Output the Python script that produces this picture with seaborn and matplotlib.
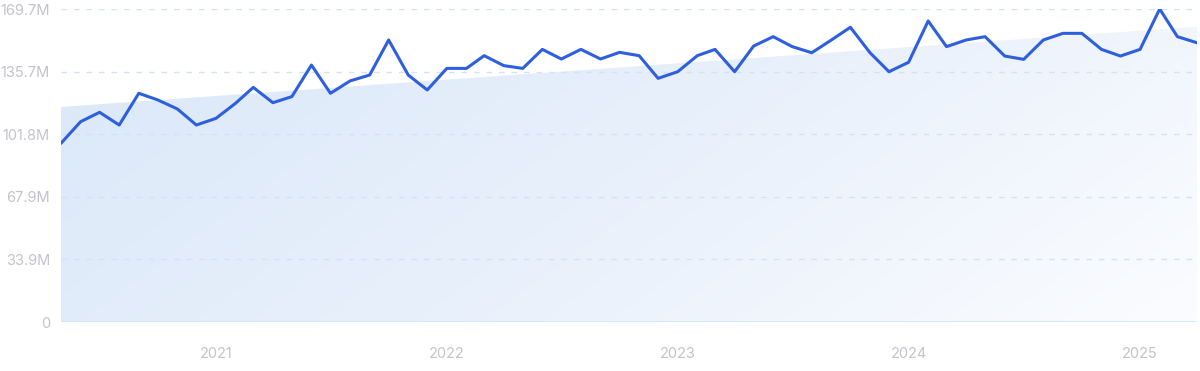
import numpy as np
import pandas as pd
import matplotlib
matplotlib.use("Agg")
import matplotlib.pyplot as plt
import seaborn as sns
from matplotlib.colors import LinearSegmentedColormap
from matplotlib.patches import Polygon

# ---- data ----
start_month = "2020-05-01"
values_m = [96.9, 108.6, 113.7, 106.8, 124.0, 120.4, 115.5, 106.8, 110.4, 118.6,
            127.2, 118.9, 122.2, 139.3, 124.0, 130.7, 133.9, 152.9, 133.9, 125.8,
            137.5, 137.5, 144.4, 139.0, 137.5, 147.8, 142.6, 147.8, 142.6, 146.2,
            144.4, 132.1, 135.7, 144.4, 147.8, 135.7, 149.6, 154.7, 149.3, 146.0,
            152.9, 159.8, 146.0, 135.7, 140.8, 163.2, 149.3, 152.9, 154.7, 144.2,
            142.4, 152.9, 156.5, 156.5, 147.8, 144.2, 147.8, 169.7, 154.7, 151.4]
trend_m = [116.6, 160.1]
ytick_vals = [0, 33.9, 67.9, 101.8, 135.7, 169.7]
ytick_labels = ["0", "33.9M", "67.9M", "101.8M", "135.7M", "169.7M"]
xtick_years = [2021, 2022, 2023, 2024, 2025]

dates = pd.date_range(start_month, periods=len(values_m), freq="MS")
df = pd.DataFrame({"date": dates, "value": values_m})

sns.set_style("white")
plt.rcParams["font.family"] = ["Inter", "DejaVu Sans"]

fig = plt.figure(figsize=(12, 3.71), dpi=100)
ax = fig.add_axes([61 / 1200, 1 - 322 / 371, (1197 - 61) / 1200, (322 - 9) / 371])

x0 = matplotlib.dates.date2num(dates[0])
x1 = matplotlib.dates.date2num(dates[-1])
ymax = ytick_vals[-1]

# gradient fill under trend line (light blue upper-left -> near white lower-right)
cmap = LinearSegmentedColormap.from_list("g", ["#dae8f9", "#e8f0fb", "#fbfcff"])
nx, ny = 300, 100
gx = np.linspace(0, 1, nx)
gy = np.linspace(0, 1, ny)
GX, GY = np.meshgrid(gx, gy)
grad = 0.8 * GX + 0.3 * (1 - GY)  # row 0 = bottom (origin lower)
grad = grad / grad.max()
im = ax.imshow(grad, extent=[x0, x1, 0, ymax], origin="lower", cmap=cmap,
               aspect="auto", zorder=1, interpolation="bilinear")
poly = Polygon([[x0, 0], [x0, trend_m[0]], [x1, trend_m[1]], [x1, 0]],
               closed=True, facecolor="none", edgecolor="none")
ax.add_patch(poly)
im.set_clip_path(poly)

# grid lines
for v in ytick_vals[1:]:
    ax.axhline(v, color="#d3e3f5", lw=1.0, ls=(0, (4, 5)), zorder=2)
ax.axhline(0, color="#cde6fb", lw=1.2, zorder=2)

sns.lineplot(data=df, x="date", y="value", ax=ax, color="#2d5fe0",
             linewidth=2.2, zorder=3)

ax.set_xlim(x0, x1)
ax.set_ylim(0, ymax)
ax.set_yticks(ytick_vals)
ax.set_yticklabels(ytick_labels)
ax.set_xticks([matplotlib.dates.date2num(pd.Timestamp(f"{y}-01-01")) for y in xtick_years])
ax.set_xticklabels([str(y) for y in xtick_years])
ax.tick_params(axis="both", length=0, labelsize=10.5, labelcolor="#c3c3cc")
ax.tick_params(axis="y", pad=8)
ax.tick_params(axis="x", pad=18)
ax.set_xlabel("")
ax.set_ylabel("")
for s in ax.spines.values():
    s.set_visible(False)

fig.savefig("out.png", dpi=100, facecolor="white")
